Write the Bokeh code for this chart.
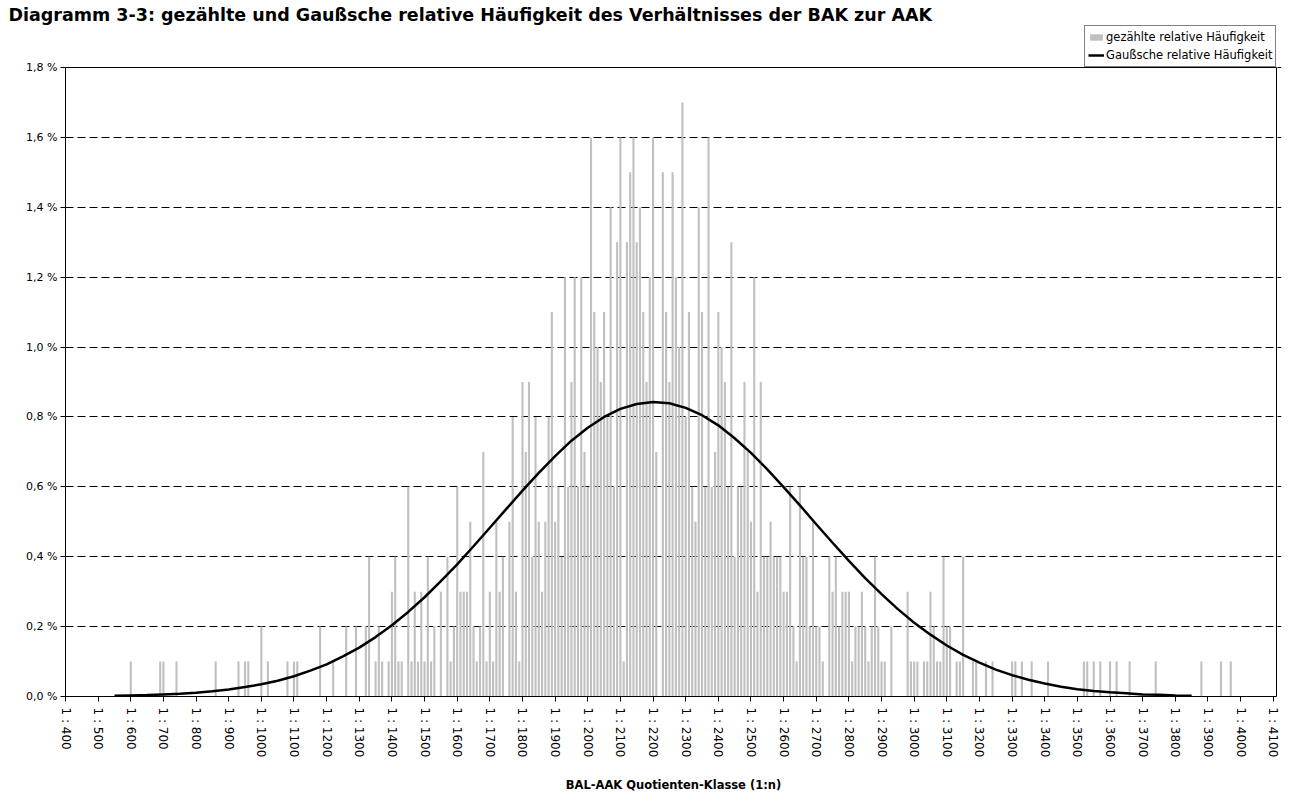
from bokeh.plotting import figure
from bokeh.models import Range1d, FixedTicker, Legend, LegendItem, BoxAnnotation
from bokeh.embed import file_html
from bokeh.resources import INLINE

# ---- data -----------------------------------------------------------------
# class (1:n) -> counted relative frequency in %
classes = [600, 690, 700, 740, 860, 930, 950, 960, 1000, 1020, 1080, 1100, 1110,
           1180, 1220, 1260, 1290, 1320, 1330, 1350, 1360, 1370, 1390, 1400, 1410, 1420, 1430,
           1450, 1460, 1470, 1480, 1490, 1500, 1510, 1520, 1530, 1550, 1570, 1580, 1590, 1600,
           1610, 1620, 1630, 1640, 1650, 1660, 1670,
           1680, 1690, 1700, 1710, 1720, 1730, 1740, 1760, 1770, 1780, 1790, 1800, 1810, 1820,
           1830, 1840, 1850,
           1860, 1870, 1880, 1890, 1900, 1910, 1920, 1930, 1940, 1950, 1960, 1970, 1980, 1990,
           2000, 2010, 2020, 2030, 2040,
           2050, 2060, 2070, 2080, 2090, 2100, 2110, 2120, 2130, 2140, 2150, 2160, 2170, 2180,
           2190, 2200, 2210,
           2230, 2240, 2250, 2260, 2270, 2280, 2290, 2300, 2310, 2320, 2330, 2340, 2350, 2360,
           2370, 2380, 2390,
           2400, 2410, 2420, 2430, 2440, 2450, 2460, 2470, 2480, 2490, 2500, 2510, 2520, 2530,
           2540, 2550, 2560, 2570, 2580,
           2590, 2600, 2610, 2620, 2630, 2640, 2650, 2660, 2670, 2680, 2690, 2700, 2710, 2720,
           2740, 2750, 2760,
           2770, 2780, 2790, 2800, 2810, 2820, 2830, 2840, 2850, 2860, 2870, 2880, 2890, 2900,
           2910, 2930,
           2980, 2990, 3000, 3010, 3030, 3040, 3050, 3060, 3070, 3080, 3090, 3100, 3110, 3130,
           3140, 3150, 3180, 3190, 3220, 3240, 3300, 3310, 3330, 3360, 3410,
           3520, 3530, 3550, 3570, 3600, 3620, 3660, 3740, 3880, 3940, 3970]
counted = [0.1, 0.1, 0.1, 0.1, 0.1, 0.1, 0.1, 0.1, 0.2, 0.1, 0.1, 0.1, 0.1,
           0.2, 0.1, 0.2, 0.2, 0.2, 0.4, 0.1, 0.2, 0.1, 0.1, 0.3, 0.4, 0.1, 0.1,
           0.6, 0.1, 0.3, 0.1, 0.3, 0.1, 0.4, 0.1, 0.2, 0.3, 0.4, 0.1, 0.2, 0.6,
           0.3, 0.3, 0.3, 0.5, 0.2, 0.1, 0.2,
           0.7, 0.1, 0.3, 0.1, 0.5, 0.3, 0.4, 0.5, 0.8, 0.3, 0.1, 0.9, 0.7, 0.9,
           0.4, 0.8, 0.5,
           0.3, 0.5, 0.8, 1.1, 0.5, 0.6, 0.4, 1.2, 0.6, 0.9, 1.2, 0.6, 1.2, 0.7,
           0.6, 1.6, 1.1, 1.0, 0.9,
           1.1, 0.8, 1.4, 0.6, 1.3, 1.6, 0.1, 1.3, 1.5, 1.6, 1.3, 1.4, 1.1, 0.9,
           1.2, 1.6, 0.7,
           1.5, 1.1, 0.9, 1.5, 1.2, 1.0, 1.7, 0.8, 1.1, 0.6, 0.5, 1.4, 1.1, 0.6,
           1.6, 0.6, 0.7,
           1.1, 1.0, 0.9, 0.6, 1.3, 0.4, 0.6, 0.6, 0.9, 0.7, 0.5, 1.2, 0.3, 0.9,
           0.4, 0.4, 0.5, 0.4, 0.4,
           0.4, 0.3, 0.3, 0.6, 0.2, 0.1, 0.6, 0.4, 0.4, 0.2, 0.5, 0.2, 0.2, 0.1,
           0.4, 0.3, 0.4,
           0.2, 0.3, 0.3, 0.3, 0.1, 0.2, 0.2, 0.3, 0.2, 0.1, 0.2, 0.4, 0.2, 0.1,
           0.1, 0.2,
           0.3, 0.1, 0.1, 0.1, 0.1, 0.1, 0.3, 0.2, 0.1, 0.1, 0.4, 0.2, 0.2, 0.1,
           0.1, 0.4, 0.1, 0.1, 0.1, 0.1, 0.1, 0.1, 0.1, 0.1, 0.1,
           0.1, 0.1, 0.1, 0.1, 0.1, 0.1, 0.1, 0.1, 0.1, 0.1, 0.1]

# Gaussian relative frequency (%)
gauss_x = [550, 600, 650, 700, 750, 800, 850, 900, 950, 1000, 1050, 1100, 1150, 1200, 1250,
           1300, 1350, 1400, 1450, 1500, 1550, 1600, 1650, 1700, 1750, 1800, 1850, 1900, 1950,
           2000, 2050, 2100, 2150, 2200, 2250, 2300, 2350, 2400, 2450, 2500, 2550, 2600, 2650,
           2700, 2750, 2800, 2850, 2900, 2950, 3000, 3050, 3100, 3150, 3200, 3250, 3300, 3350,
           3400, 3450, 3500, 3550, 3600, 3650, 3700, 3750, 3800, 3850]
gauss_y = [0.002, 0.003, 0.004, 0.006, 0.008, 0.011, 0.015, 0.020, 0.027, 0.035, 0.045, 0.058,
           0.074, 0.092, 0.115, 0.140, 0.170, 0.204, 0.242, 0.284, 0.330, 0.378, 0.430, 0.483,
           0.536, 0.589, 0.640, 0.688, 0.732, 0.769, 0.800, 0.823, 0.837, 0.843, 0.839, 0.826,
           0.805, 0.776, 0.739, 0.697, 0.650, 0.599, 0.547, 0.493, 0.440, 0.388, 0.339, 0.293,
           0.250, 0.211, 0.177, 0.146, 0.119, 0.097, 0.077, 0.061, 0.048, 0.037, 0.028, 0.021,
           0.016, 0.012, 0.009, 0.006, 0.005, 0.003, 0.002]

x_ticks = list(range(400, 4101, 100))
x_tick_labels = {t: "1 : %d" % t for t in x_ticks}
y_ticks = [0.0, 0.2, 0.4, 0.6, 0.8, 1.0, 1.2, 1.4, 1.6, 1.8]
y_tick_labels = {t: ("%.1f %%" % t).replace(".", ",") for t in y_ticks}

title_text = ("Diagramm 3-3: gezählte und Gaußsche relative Häufigkeit "
              "des Verhältnisses der BAK zur AAK")
x_title = "BAL-AAK Quotienten-Klasse (1:n)"
legend_labels = ["gezählte relative Häufigkeit", "Gaußsche relative Häufigkeit"]

# plot-area limits (data units)
X_MIN, X_MAX = 400, 4110
Y_MIN, Y_MAX = 0.0, 1.8

# ---- layout geometry (page pixels) -------------------------------------------
FONT = "DejaVu Sans"
BAR_COLOR = "#C0C0C0"
W, H = 1287, 800
AREA_L, AREA_R, AREA_T, AREA_B = 65, 1276, 67, 696   # drawn plot-area box
FRAME_T, FRAME_R = 24, 1281                          # frame reaches up to hold the legend

px_per_x = (AREA_R - AREA_L) / (X_MAX - X_MIN)
px_per_y = (AREA_B - AREA_T) / (Y_MAX - Y_MIN)
x_end = X_MAX + (FRAME_R - AREA_R) / px_per_x
y_end = Y_MAX + (AREA_T - FRAME_T) / px_per_y

p = figure(width=W, height=H, output_backend="svg", toolbar_location=None,
           x_range=Range1d(X_MIN, x_end), y_range=Range1d(Y_MIN, y_end),
           min_border_left=AREA_L, min_border_right=W - FRAME_R, min_border_top=FRAME_T,
           min_border_bottom=H - AREA_B)
p.background_fill_color = "white"
p.border_fill_color = "white"
p.outline_line_color = None

p.xgrid.grid_line_color = None
p.ygrid.grid_line_color = "black"
p.ygrid.grid_line_dash = "8 4"
p.ygrid.grid_line_width = 1

bars = p.vbar(x=classes, top=counted, width=6.5, bottom=0, fill_color=BAR_COLOR,
              line_color=None)
curve = p.line(gauss_x, gauss_y, line_color="black", line_width=2.5)

# plot-area border
p.add_layout(BoxAnnotation(left=X_MIN, right=X_MAX, bottom=Y_MIN, top=Y_MAX,
                           fill_alpha=0, fill_color=None, line_color="black",
                           line_width=1, line_alpha=1))

# ---- title (left aligned to the page edge) ------------------------------------
p.title.text = title_text
p.title.text_font = FONT
p.title.text_font_style = "bold"
p.title.text_font_size = "17.5px"
p.title.text_color = "black"
p.title.align = "left"
p.title.offset = 8 - AREA_L
p.title.standoff = 0

# ---- legend (inside the raised frame, top right) ------------------------------
legend = Legend(items=[LegendItem(label=legend_labels[0], renderers=[bars]),
                       LegendItem(label=legend_labels[1], renderers=[curve])],
                location=(1084 - AREA_L, AREA_B - AREA_T), orientation="vertical",
                label_text_font=FONT, label_text_font_size="11.5px",
                label_text_color="black",
                glyph_width=16, glyph_height=8, label_standoff=2, spacing=2,
                padding=3, margin=0, label_height=16,
                border_line_color="black", border_line_width=1,
                background_fill_color="white", background_fill_alpha=1)
p.add_layout(legend)

# ---- axes -----------------------------------------------------------------------
p.xaxis.ticker = FixedTicker(ticks=x_ticks)
p.xaxis.major_label_overrides = x_tick_labels
p.xaxis.major_label_orientation = "vertical"
p.xaxis.major_label_text_font = FONT
p.xaxis.major_label_text_font_size = "12px"
p.xaxis.major_label_text_color = "black"
p.xaxis.major_label_standoff = 6
p.xaxis.major_tick_out = 5
p.xaxis.major_tick_in = 0
p.xaxis.minor_tick_line_color = None
p.xaxis.axis_line_color = "black"
p.xaxis.major_tick_line_color = "black"
p.xaxis.bounds = (X_MIN, X_MAX)
p.xaxis.axis_label = x_title
p.xaxis.axis_label_text_font = FONT
p.xaxis.axis_label_text_font_style = "bold"
p.xaxis.axis_label_text_font_size = "11.5px"
p.xaxis.axis_label_text_color = "black"
p.xaxis.axis_label_standoff = 18

p.yaxis.ticker = FixedTicker(ticks=y_ticks)
p.yaxis.major_label_overrides = y_tick_labels
p.yaxis.major_label_text_font = FONT
p.yaxis.major_label_text_font_size = "11px"
p.yaxis.major_label_text_color = "black"
p.yaxis.major_tick_out = 5
p.yaxis.major_tick_in = 0
p.yaxis.minor_tick_line_color = None
p.yaxis.axis_line_color = "black"
p.yaxis.major_tick_line_color = "black"
p.yaxis.major_label_standoff = 3
p.yaxis.bounds = (Y_MIN, Y_MAX)

open("out.html", "w").write(file_html(p, INLINE))
